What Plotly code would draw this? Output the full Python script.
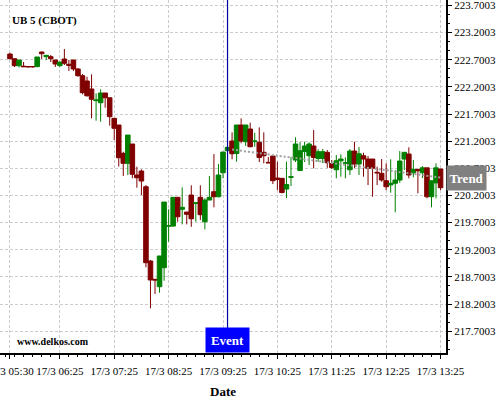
import pandas as pd
import plotly.graph_objects as go

# ---------------- data ----------------
times = pd.date_range("2023-03-17 05:30", periods=96, freq="5min")

open_ = [222.805, 222.719, 222.590, 222.581, 222.572, 222.572, 222.572, 222.842, 222.756, 222.756,
         222.695, 222.590, 222.713, 222.616, 222.695, 222.529, 222.406, 222.308, 222.161, 221.947,
         221.908, 222.087, 222.000, 221.621, 221.498, 220.976, 220.792, 221.148, 220.577, 220.650,
         220.361, 218.993, 218.656, 218.520, 218.870, 219.634, 219.636, 220.166, 219.945, 219.895,
         220.208, 220.052, 220.166, 219.716, 220.116, 220.269, 220.177, 220.618, 221.024, 221.203,
         220.973, 221.498, 221.190, 221.424, 221.192, 221.179, 220.995, 220.810, 220.926, 220.521,
         220.516, 220.318, 220.534, 220.853, 220.659, 221.009, 220.932, 221.111, 220.880, 220.880,
         220.995, 220.788, 220.674, 220.838, 220.792, 220.674, 221.018, 220.779, 220.932, 220.871,
         220.871, 220.626, 220.608, 220.472, 220.395, 220.425, 220.484, 220.871, 220.963, 220.618,
         220.681, 220.618, 220.709, 220.177, 220.432, 220.687]
high = [222.829, 222.719, 222.695, 222.658, 222.572, 222.572, 222.750, 222.851, 222.787, 222.787,
        222.695, 222.658, 222.897, 222.695, 222.695, 222.548, 222.437, 222.387, 222.431, 222.081,
        222.155, 222.087, 222.000, 221.621, 221.498, 221.006, 221.313, 221.148, 220.730, 220.681,
        220.392, 219.012, 218.656, 219.086, 220.079, 219.945, 220.166, 220.166, 220.350, 219.895,
        220.387, 220.064, 220.387, 220.147, 220.558, 220.963, 220.779, 221.000, 221.087, 221.363,
        221.498, 221.621, 221.498, 221.540, 221.356, 221.455, 221.363, 220.908, 220.926, 220.822,
        220.516, 220.822, 220.908, 221.271, 221.184, 221.190, 221.179, 221.405, 221.050, 221.055,
        221.037, 220.853, 220.945, 220.958, 220.902, 221.055, 221.190, 221.092, 220.987, 220.926,
        220.871, 220.730, 220.871, 220.792, 220.866, 220.668, 221.018, 220.995, 221.087, 220.853,
        220.681, 220.741, 220.709, 220.472, 220.792, 220.687]
low = [222.708, 222.566, 222.557, 222.566, 222.553, 222.553, 222.566, 222.713, 222.695, 222.658,
       222.566, 222.572, 222.603, 222.492, 222.492, 222.387, 222.063, 222.019, 221.621, 221.577,
       221.558, 221.816, 221.485, 221.221, 220.733, 220.558, 220.577, 220.516, 220.343, 220.208,
       218.877, 218.122, 218.386, 218.409, 218.630, 219.348, 219.630, 219.716, 219.668, 219.668,
       219.623, 219.716, 219.747, 219.575, 220.116, 219.982, 220.166, 220.516, 221.024, 220.866,
       220.822, 221.160, 221.111, 221.087, 221.098, 220.816, 220.792, 220.797, 220.411, 220.300,
       220.240, 220.153, 220.374, 220.816, 220.650, 220.816, 220.761, 220.700, 220.822, 220.797,
       220.709, 220.687, 220.516, 220.545, 220.516, 220.577, 220.700, 220.577, 220.545, 220.392,
       220.177, 220.392, 220.453, 220.300, 220.251, 219.890, 220.432, 220.668, 220.516, 220.534,
       220.240, 220.521, 220.147, 219.982, 220.147, 220.300]
close = [222.719, 222.590, 222.695, 222.572, 222.572, 222.572, 222.750, 222.811, 222.781, 222.719,
         222.621, 222.658, 222.634, 222.597, 222.529, 222.406, 222.093, 222.037, 221.971, 221.958,
         222.087, 222.000, 221.651, 221.437, 220.895, 220.792, 221.313, 220.590, 220.527, 220.466,
         218.962, 218.644, 218.644, 219.086, 220.079, 219.646, 220.166, 219.808, 219.982, 219.853,
         219.771, 220.064, 219.846, 220.116, 220.166, 220.177, 220.577, 221.000, 221.087, 220.969,
         221.498, 221.203, 221.498, 221.098, 221.203, 220.899, 220.932, 220.801, 220.472, 220.494,
         220.254, 220.401, 220.545, 221.148, 221.024, 221.111, 221.148, 220.899, 221.006, 221.006,
         220.803, 220.714, 220.840, 220.871, 220.803, 221.018, 220.779, 220.969, 220.871, 220.700,
         220.700, 220.617, 220.484, 220.361, 220.425, 220.484, 220.834, 220.995, 220.577, 220.681,
         220.655, 220.709, 220.177, 220.472, 220.709, 220.343]

trend_times = ["2023-03-17 09:35", "2023-03-17 13:25"]
trend_values = [221.046, 220.530]

event_time = "2023-03-17 09:30"

x_tick_times = ["2023-03-17 05:30", "2023-03-17 06:25", "2023-03-17 07:25", "2023-03-17 08:25",
                "2023-03-17 09:25", "2023-03-17 10:25", "2023-03-17 11:25", "2023-03-17 12:25",
                "2023-03-17 13:25"]
x_tick_labels = ["17/3 05:30", "17/3 06:25", "17/3 07:25", "17/3 08:25", "17/3 09:25",
                 "17/3 10:25", "17/3 11:25", "17/3 12:25", "17/3 13:25"]

x_range = ["2023-03-17 05:19", "2023-03-17 13:31"]
y_range = [217.299, 223.80]

FONT = "Liberation Serif"
RED = "#800000"
GREEN = "#008000"

fig = go.Figure()
fig.add_trace(go.Candlestick(
    x=times, open=open_, high=high, low=low, close=close,
    increasing=dict(line=dict(color=GREEN, width=1), fillcolor=GREEN),
    decreasing=dict(line=dict(color=RED, width=1), fillcolor=RED),
    whiskerwidth=0, showlegend=False,
))
fig.add_trace(go.Scatter(
    x=trend_times, y=trend_values, mode="lines",
    line=dict(color="#a0a0a0", width=2, dash="2px,2px"), showlegend=False,
))

fig.add_shape(type="line", xref="x", yref="paper", x0=event_time, x1=event_time,
              y0=0.06, y1=1, line=dict(color="#0000a0", width=1.2))
fig.add_annotation(x=event_time, xref="x", y=0, yref="paper", yanchor="bottom",
                   text="<b>Event</b>", showarrow=False, bgcolor="#0000ff",
                   width=41, height=22, font=dict(family=FONT, size=13, color="white"))
fig.add_annotation(x=1, xref="paper", xanchor="left", y=trend_values[-1], yref="y",
                   text="<b>Trend</b>", showarrow=False, bgcolor="#808080",
                   width=37, height=22, font=dict(family=FONT, size=13, color="white"))
fig.add_annotation(x=0.022, xref="paper", y=0.943, yref="paper", xanchor="left", yanchor="middle",
                   text="<b>UB 5 (CBOT)</b>", showarrow=False,
                   font=dict(family=FONT, size=11, color="black"))
fig.add_annotation(x=0.033, xref="paper", y=0.012, yref="paper", xanchor="left", yanchor="bottom",
                   text="<b>www.delkos.com</b>", showarrow=False,
                   font=dict(family=FONT, size=10, color="black"))

fig.update_layout(
    width=500, height=400,
    margin=dict(l=0, r=54, t=0, b=47),
    paper_bgcolor="white", plot_bgcolor="white",
    font=dict(family=FONT, size=11, color="black"),
    boxgap=0, boxgroupgap=0,
    xaxis=dict(
        type="date", range=x_range, rangeslider=dict(visible=False),
        tickmode="array", tickvals=x_tick_times, ticktext=x_tick_labels, tickangle=0,
        ticks="outside", ticklen=4, tickcolor="black", ticklabeloverflow="allow",
        ticklabelstandoff=3,
        showline=True, linecolor="black", linewidth=2,
        showgrid=True, gridcolor="#cccccc", griddash="3px,2px", gridwidth=1,
        zeroline=False, automargin=False,
        minor=dict(tickmode="linear", tick0="2023-03-17 05:25", dtick=600000,
                   ticks="outside", ticklen=2, tickcolor="black", showgrid=False),
        title=dict(text="<b>Date</b>", font=dict(family=FONT, size=13), standoff=11),
        tickfont=dict(family=FONT, size=11),
    ),
    yaxis=dict(
        side="right", range=y_range,
        tickmode="linear", tick0=217.7003, dtick=0.5, tickformat=".4f",
        ticks="outside", ticklen=4, tickcolor="black", ticklabeloverflow="allow",
        showline=True, linecolor="black", linewidth=2,
        showgrid=True, gridcolor="#cccccc", griddash="3px,2px", gridwidth=1,
        zeroline=False, automargin=False,
        minor=dict(tickmode="linear", tick0=217.7003, dtick=0.5 / 3,
                   ticks="outside", ticklen=2, tickcolor="black", showgrid=False),
        tickfont=dict(family=FONT, size=11),
    ),
)

fig.write_html("out.html", config={"displayModeBar": False},
               post_script="document.body.style.margin='0';document.body.style.padding='0';")
